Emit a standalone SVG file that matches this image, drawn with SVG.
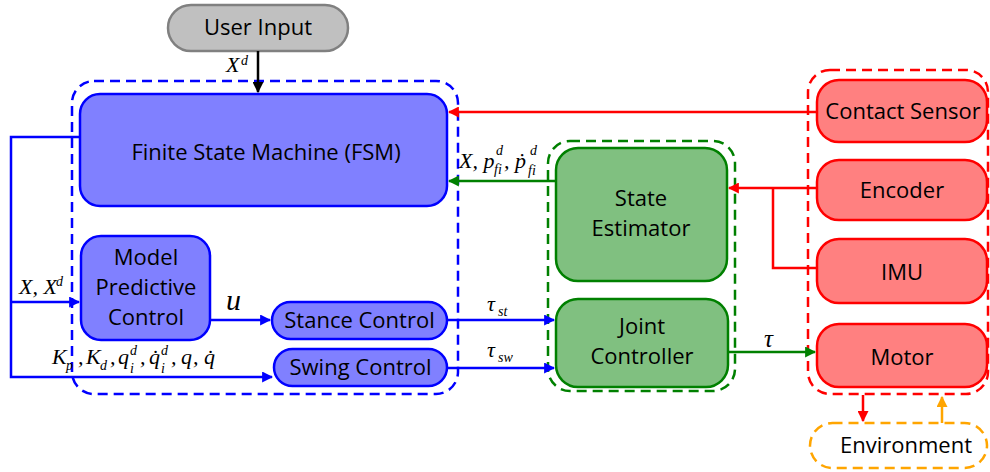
<svg xmlns="http://www.w3.org/2000/svg" width="990" height="472" viewBox="0 0 990 472">
  <defs>
    <marker id="ah-k" viewBox="0 0 10 10" refX="9" refY="5" markerWidth="4.4" markerHeight="4.4" orient="auto" markerUnits="strokeWidth"><path d="M0,0 L10,5 L0,10 z" fill="#000"/></marker>
    <marker id="ah-b" viewBox="0 0 10 10" refX="9" refY="5" markerWidth="4.4" markerHeight="4.4" orient="auto" markerUnits="strokeWidth"><path d="M0,0 L10,5 L0,10 z" fill="#0000ff"/></marker>
    <marker id="ah-g" viewBox="0 0 10 10" refX="9" refY="5" markerWidth="4.4" markerHeight="4.4" orient="auto" markerUnits="strokeWidth"><path d="M0,0 L10,5 L0,10 z" fill="#008000"/></marker>
    <marker id="ah-r" viewBox="0 0 10 10" refX="9" refY="5" markerWidth="4.4" markerHeight="4.4" orient="auto" markerUnits="strokeWidth"><path d="M0,0 L10,5 L0,10 z" fill="#ff0000"/></marker>
    <marker id="ah-o" viewBox="0 0 10 10" refX="9" refY="5" markerWidth="4.4" markerHeight="4.4" orient="auto" markerUnits="strokeWidth"><path d="M0,0 L10,5 L0,10 z" fill="#ffa500"/></marker>
  </defs>
  <style>
    .lbl { font-family: "Open Sans", "Liberation Sans", sans-serif; font-size: 22px; fill: #000; text-anchor: middle; }
    .math { font-family: "Liberation Serif", "DejaVu Serif", serif; font-style: italic; font-size: 22px; fill: #000; }
    .sm { font-size: 14px; }
    .big { font-size: 25px; }
    .huge { font-size: 30px; }
    .blue { fill: #8080ff; stroke: #0000ff; stroke-width: 2.5; }
    .green { fill: #80c080; stroke: #008000; stroke-width: 2.5; }
    .red { fill: #ff8080; stroke: #ff0000; stroke-width: 2.5; }
    .grey { fill: #c0c0c0; stroke: #808080; stroke-width: 2.5; }
    .dash { fill: none; stroke-width: 2.5; stroke-dasharray: 10 6; }
    .wire { fill: none; stroke-width: 2.5; }
  </style>

  <!-- subsystem frames -->
  <g id="frames">
    <rect class="dash" x="72" y="81" width="386" height="313" rx="22" stroke="#0000ff"/>
    <rect class="dash" x="548" y="141" width="187" height="250" rx="22" stroke="#008000"/>
    <rect class="dash" x="808" y="70" width="180" height="324" rx="22" stroke="#ff0000"/>
  </g>

  <g id="user-input">
    <rect class="grey" x="168" y="5" width="180" height="46" rx="23"/>
    <text class="lbl" x="258" y="35">User Input</text>
  </g>

  <g id="fsm">
    <rect class="blue" x="80" y="94" width="367" height="112" rx="20"/>
    <text class="lbl" x="266" y="160">Finite State Machine (FSM)</text>
  </g>

  <g id="mpc">
    <rect class="blue" x="81" y="236" width="129" height="104" rx="20"/>
    <text class="lbl" x="146" y="265">Model</text>
    <text class="lbl" x="146" y="295">Predictive</text>
    <text class="lbl" x="146" y="325">Control</text>
  </g>

  <g id="stance-control">
    <rect class="blue" x="272" y="302" width="175" height="37" rx="18.5"/>
    <text class="lbl" x="359.500" y="328">Stance Control</text>
  </g>

  <g id="swing-control">
    <rect class="blue" x="274" y="349" width="173" height="37" rx="18.5"/>
    <text class="lbl" x="360.500" y="375">Swing Control</text>
  </g>

  <g id="state-estimator">
    <rect class="green" x="556" y="148" width="171" height="133" rx="22"/>
    <text class="lbl" x="641" y="206">State</text>
    <text class="lbl" x="641" y="236">Estimator</text>
  </g>

  <g id="joint-controller">
    <rect class="green" x="556" y="299" width="172" height="88" rx="22"/>
    <text class="lbl" x="642" y="334">Joint</text>
    <text class="lbl" x="642" y="364">Controller</text>
  </g>

  <g id="contact-sensor">
    <rect class="red" x="817" y="80" width="170" height="62" rx="22"/>
    <text class="lbl" x="903" y="119">Contact Sensor</text>
  </g>

  <g id="encoder">
    <rect class="red" x="817" y="160" width="170" height="60" rx="22"/>
    <text class="lbl" x="902" y="198">Encoder</text>
  </g>

  <g id="imu">
    <rect class="red" x="817" y="239" width="170" height="64" rx="22"/>
    <text class="lbl" x="902" y="280">IMU</text>
  </g>

  <g id="motor">
    <rect class="red" x="817" y="324" width="170" height="63" rx="22"/>
    <text class="lbl" x="902" y="365">Motor</text>
  </g>

  <g id="environment">
    <rect class="dash" x="810" y="423" width="177" height="45" rx="22.5" stroke="#ffa500"/>
    <text class="lbl" x="906" y="453">Environment</text>
  </g>

  <!-- connectors -->
  <g id="connectors">
    <path class="wire" stroke="#000" d="M258,51 V92" marker-end="url(#ah-k)"/>
    <path class="wire" stroke="#0000ff" d="M80,137 H11 V377 H272" marker-end="url(#ah-b)"/>
    <path class="wire" stroke="#0000ff" d="M11,302 H79" marker-end="url(#ah-b)"/>
    <path class="wire" stroke="#0000ff" d="M210,320 H270" marker-end="url(#ah-b)"/>
    <path class="wire" stroke="#0000ff" d="M447,320 H554" marker-end="url(#ah-b)"/>
    <path class="wire" stroke="#0000ff" d="M447,368 H554" marker-end="url(#ah-b)"/>
    <path class="wire" stroke="#008000" d="M556,181 H449" marker-end="url(#ah-g)"/>
    <path class="wire" stroke="#008000" d="M728,352 H815" marker-end="url(#ah-g)"/>
    <path class="wire" stroke="#ff0000" d="M817,112 H449" marker-end="url(#ah-r)"/>
    <path class="wire" stroke="#ff0000" d="M817,188 H729" marker-end="url(#ah-r)"/>
    <path class="wire" stroke="#ff0000" d="M817,268 H773 V188"/>
    <path class="wire" stroke="#ff0000" d="M863,395 V421" marker-end="url(#ah-r)"/>
    <path class="wire" stroke="#ffa500" d="M942,423 V397" marker-end="url(#ah-o)"/>
  </g>

  <!-- signal labels -->
  <g id="labels">
    <text class="math" x="226" y="72">X</text>
    <text class="math sm" x="241" y="65">d</text>

    <text class="math" x="19" y="294">X, X</text>
    <text class="math sm" x="56" y="286">d</text>

    <text class="math huge" x="226" y="310">u</text>

    <text class="math" x="52" y="364">K</text>
    <text class="math sm" x="66" y="370">p</text>
    <text class="math" x="78" y="364">,</text>
    <text class="math" x="86" y="364">K</text>
    <text class="math sm" x="100" y="370">d</text>
    <text class="math" x="110" y="364">,</text>
    <text class="math" x="118" y="364">q</text>
    <text class="math sm" x="130" y="373">i</text>
    <text class="math sm" x="130" y="355">d</text>
    <text class="math" x="140" y="364">,</text>
    <text class="math" x="149" y="364">q̇</text>
    <text class="math sm" x="161" y="373">i</text>
    <text class="math sm" x="161" y="355">d</text>
    <text class="math" x="171" y="364">,</text>
    <text class="math" x="181" y="364">q</text>
    <text class="math" x="193" y="364">,</text>
    <text class="math" x="204" y="364">q̇</text>

    <text class="math" x="459" y="168">X, p</text>
    <text class="math sm" x="496" y="155">d</text>
    <text class="math sm" x="494" y="174">fi</text>
    <text class="math" x="504" y="168">, ṗ</text>
    <text class="math sm" x="530" y="155">d</text>
    <text class="math sm" x="528" y="175">fi</text>

    <text class="math" x="487" y="311">τ</text>
    <text class="math sm" x="498" y="316">st</text>
    <text class="math" x="487" y="357">τ</text>
    <text class="math sm" x="498" y="362">sw</text>

    <text class="math big" x="764" y="347">τ</text>
  </g>
</svg>
